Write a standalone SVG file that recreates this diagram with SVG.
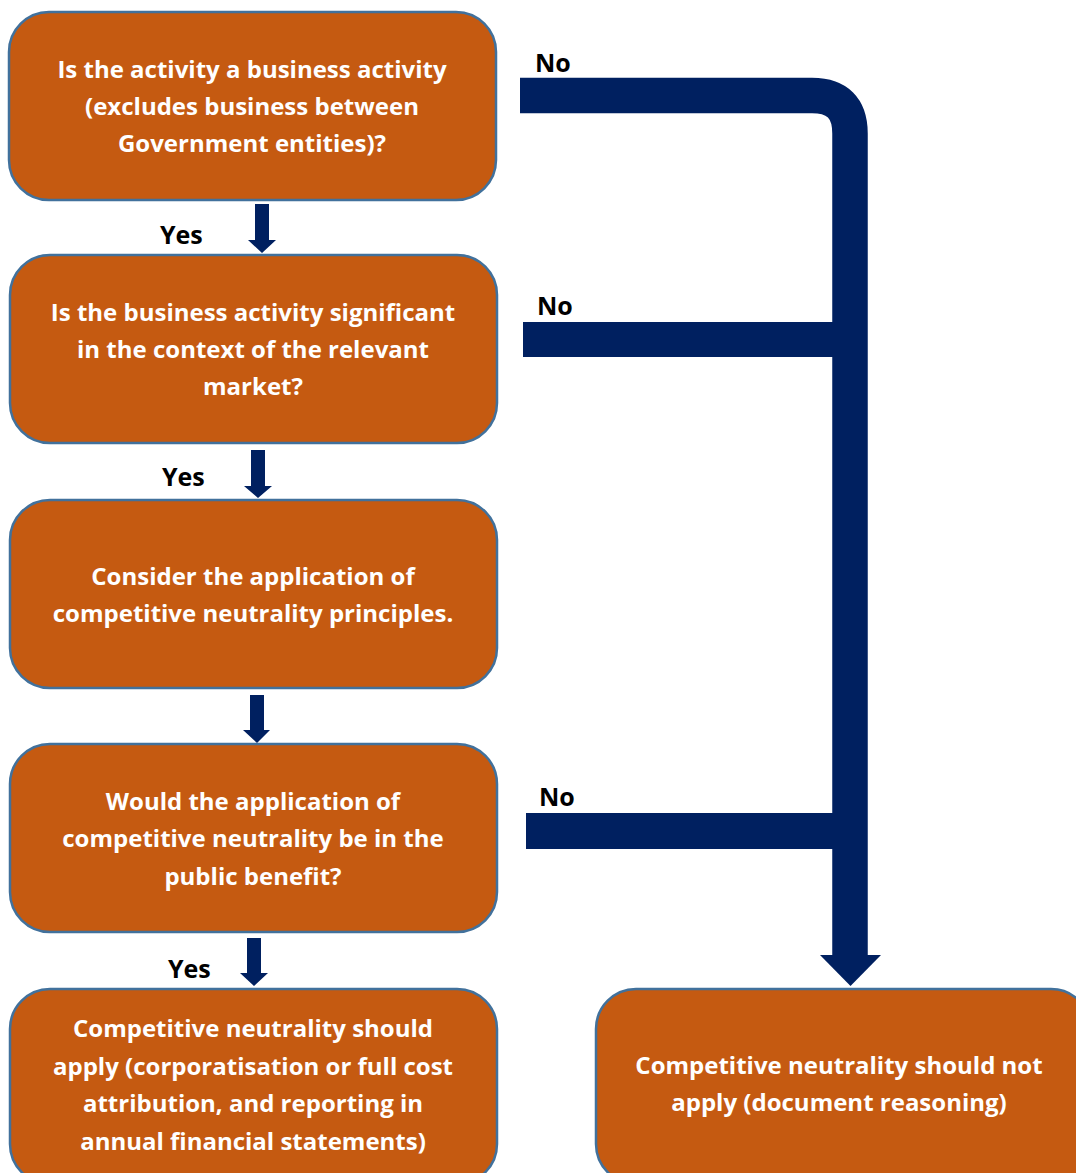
<svg xmlns="http://www.w3.org/2000/svg" width="1076" height="1173" viewBox="0 0 1076 1173">
<style>
.box{fill:#C55A11;stroke:#41719C;stroke-width:2.5}
.t{font-family:"Open Sans","Liberation Sans",sans-serif;font-weight:700;font-size:24px;fill:#FFFFFF;text-anchor:middle}
.l{font-family:"Open Sans","Liberation Sans",sans-serif;font-weight:700;font-size:25px;fill:#000000}
.bar{fill:#002060}
</style>
<rect width="1076" height="1173" fill="#FFFFFF"/>
<g id="connectors">
<path d="M520,95.5 H812 Q850,95.5 850,133.5 V956" fill="none" stroke="#002060" stroke-width="35.5"/>
<polygon class="bar" points="820,955 881,955 850.5,986"/>
<rect class="bar" x="523" y="322" width="310" height="35"/>
<rect class="bar" x="526" y="813" width="307" height="36"/>
<polygon class="bar" points="255,204 269,204 269,240 276,240 262,253 248,240 255,240"/>
<polygon class="bar" points="251,450 265,450 265,486 272,486 258,498 244,486 251,486"/>
<polygon class="bar" points="250,695 264,695 264,730 270,730 257,743 243,730 250,730"/>
<polygon class="bar" points="247,938 261,938 261,973 268,973 254,986 240,973 247,973"/>
<text class="l" x="535" y="72">No</text>
<text class="l" x="537" y="315">No</text>
<text class="l" x="539" y="806">No</text>
<text class="l" x="160" y="244">Yes</text>
<text class="l" x="162" y="486">Yes</text>
<text class="l" x="168" y="978">Yes</text>
</g>
<g id="n1">
<rect class="box" x="9" y="12" width="487" height="188" rx="40"/>
<text class="t" x="252" y="78">Is the activity a business activity</text>
<text class="t" x="252" y="115">(excludes business between</text>
<text class="t" x="252" y="152">Government entities)?</text>
</g>
<g id="n2">
<rect class="box" x="10" y="255" width="487" height="188" rx="40"/>
<text class="t" x="253" y="321">Is the business activity significant</text>
<text class="t" x="253" y="358">in the context of the relevant</text>
<text class="t" x="253" y="395">market?</text>
</g>
<g id="n3">
<rect class="box" x="10" y="500" width="487" height="188" rx="40"/>
<text class="t" x="253" y="585">Consider the application of</text>
<text class="t" x="253" y="622">competitive neutrality principles.</text>
</g>
<g id="n4">
<rect class="box" x="10" y="744" width="487" height="188" rx="40"/>
<text class="t" x="253" y="810">Would the application of</text>
<text class="t" x="253" y="847">competitive neutrality be in the</text>
<text class="t" x="253" y="885">public benefit?</text>
</g>
<g id="n5">
<rect class="box" x="10" y="989" width="487" height="195" rx="40"/>
<text class="t" x="253" y="1037">Competitive neutrality should</text>
<text class="t" x="253" y="1075">apply (corporatisation or full cost</text>
<text class="t" x="253" y="1112">attribution, and reporting in</text>
<text class="t" x="253" y="1150">annual financial statements)</text>
</g>
<g id="n6">
<rect class="box" x="596" y="989" width="495" height="195" rx="40"/>
<text class="t" x="839" y="1074">Competitive neutrality should not</text>
<text class="t" x="839" y="1111">apply (document reasoning)</text>
</g>
</svg>
